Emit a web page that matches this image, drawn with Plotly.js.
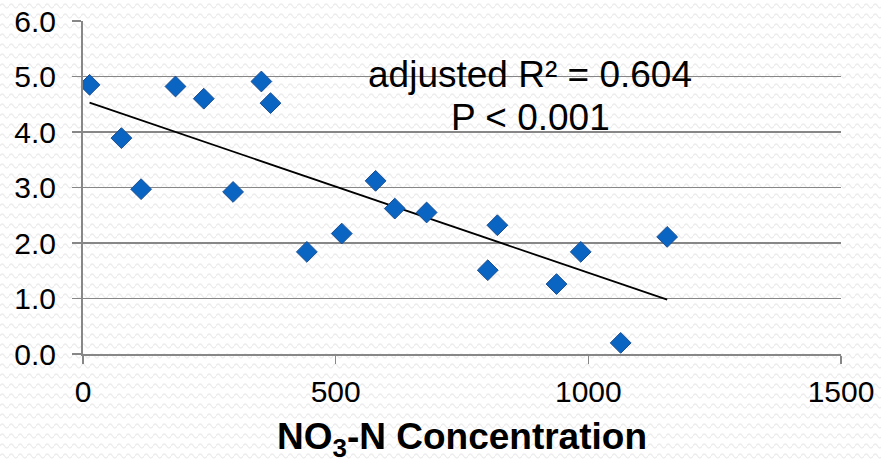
<!DOCTYPE html>
<html>
<head>
<meta charset="utf-8">
<script src="https://cdn.plot.ly/plotly-3.0.1.min.js"></script>
<style>
  html, body { margin: 0; padding: 0; }
  body {
    width: 881px; height: 462px; overflow: hidden;
    background-color: #ffffff;
    background-image: url("data:image/svg+xml,%3Csvg xmlns='http://www.w3.org/2000/svg' width='9' height='10'%3E%3Cpath d='M0 6 Q2.25 2 4.5 6 T9 6' fill='none' stroke='%23ededed' stroke-width='1.3'/%3E%3C/svg%3E");
  }
  #chart { width: 881px; height: 462px; }
</style>
</head>
<body>
<div id="chart"></div>
<script>
// NO3-N concentration against the measured response, one diamond per site
const no3n = [13, 76, 115, 183, 239, 297, 353, 371, 443, 512, 579, 617, 680, 820, 801, 937, 985, 1064, 1156];
const response = [4.85, 3.89, 2.97, 4.82, 4.60, 2.92, 4.91, 4.52, 1.84, 2.17, 3.12, 2.62, 2.55, 2.32, 1.51, 1.26, 1.84, 0.20, 2.11];

const xTicks = [0, 500, 1000, 1500];
const yTicks = [0, 1, 2, 3, 4, 5, 6];
const statLines = ['adjusted R\u00B2 = 0.604', 'P < 0.001'];

// ordinary least-squares trend line across the observed x span
function linearFit(xs, ys) {
  const n = xs.length;
  const mx = xs.reduce((a, b) => a + b, 0) / n;
  const my = ys.reduce((a, b) => a + b, 0) / n;
  let sxy = 0, sxx = 0;
  for (let i = 0; i < n; i++) {
    sxy += (xs[i] - mx) * (ys[i] - my);
    sxx += (xs[i] - mx) * (xs[i] - mx);
  }
  const slope = sxy / sxx;
  return { slope: slope, intercept: my - slope * mx };
}
const fit = linearFit(no3n, response);
const xMin = Math.min(...no3n), xMax = Math.max(...no3n);
const trendX = [xMin, xMax];
const trendY = trendX.map(v => fit.intercept + fit.slope * v);

const font = 'Arial, "Liberation Sans", sans-serif';
const gridGrey = '#878787';

const traces = [
  {
    x: trendX, y: trendY, type: 'scatter', mode: 'lines',
    line: { color: '#000000', width: 1.8 }, hoverinfo: 'skip'
  },
  {
    x: no3n, y: response, type: 'scatter', mode: 'markers',
    marker: { symbol: 'diamond', size: 16, color: '#0a64c2', line: { color: '#1c4f92', width: 1 } }
  }
];

const layout = {
  width: 881, height: 462,
  margin: { l: 83, r: 40, t: 21, b: 108 },
  paper_bgcolor: 'rgba(0,0,0,0)',
  plot_bgcolor: 'rgba(0,0,0,0)',
  showlegend: false,
  font: { family: font, color: '#000000' },
  xaxis: {
    range: [0, 1500], autorange: false,
    tickvals: xTicks, ticktext: xTicks.map(String),
    ticks: 'outside', ticklen: 8, tickwidth: 1.5, tickcolor: gridGrey,
    showline: true, linecolor: gridGrey, linewidth: 2,
    showgrid: false, zeroline: false,
    tickfont: { family: font, size: 30, color: '#000000' },
    ticklabelstandoff: 2,
    title: { text: '<b>NO<sub>3</sub>-N Concentration</b>', font: { family: font, size: 37, color: '#000000' }, standoff: 18 },
    automargin: false
  },
  yaxis: {
    range: [0, 6], autorange: false,
    tickvals: yTicks, ticktext: yTicks.map(v => v.toFixed(1)),
    ticks: 'outside', ticklen: 9, tickwidth: 1.5, tickcolor: gridGrey,
    showline: true, linecolor: gridGrey, linewidth: 2,
    showgrid: true, gridcolor: gridGrey, gridwidth: 1.8,
    zeroline: false,
    tickfont: { family: font, size: 30, color: '#000000' },
    ticklabelstandoff: 10,
    automargin: false
  },
  annotations: [
    { x: 885, y: 5.04, xref: 'x', yref: 'y', text: statLines[0], showarrow: false,
      xanchor: 'center', yanchor: 'middle', font: { family: font, size: 37, color: '#000000' } },
    { x: 885, y: 4.27, xref: 'x', yref: 'y', text: statLines[1], showarrow: false,
      xanchor: 'center', yanchor: 'middle', font: { family: font, size: 37, color: '#000000' } }
  ]
};

Plotly.newPlot('chart', traces, layout, { staticPlot: true, displayModeBar: false });
</script>
</body>
</html>
